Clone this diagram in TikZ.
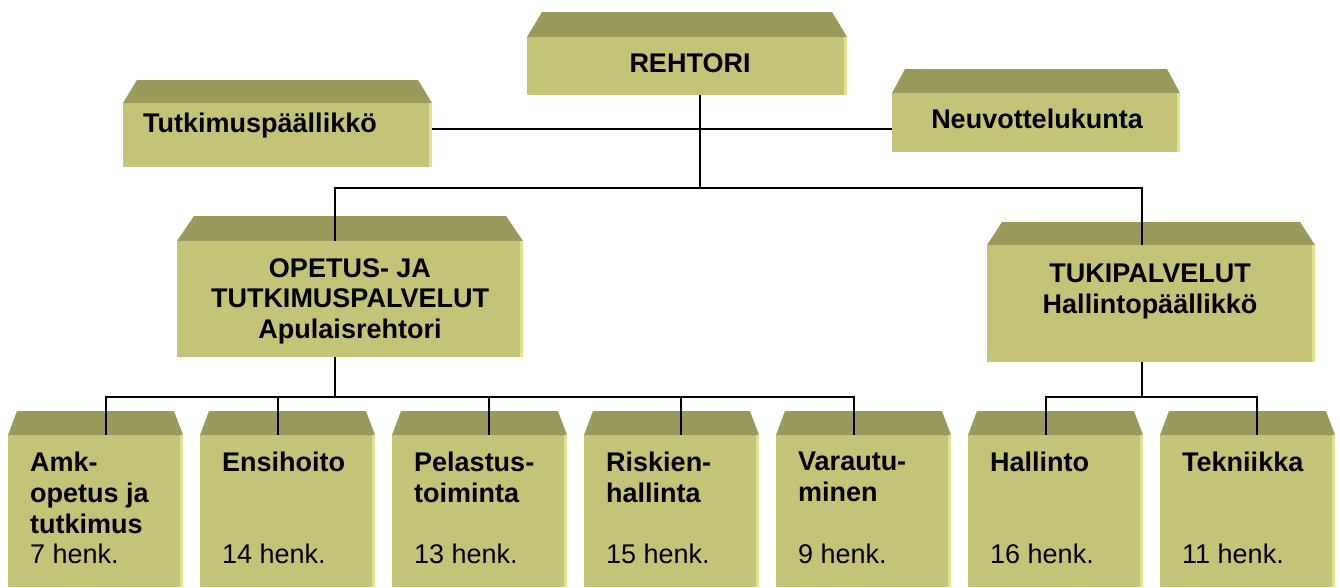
\documentclass[tikz,border=0pt]{standalone}
\usepackage{fontspec}
\setmainfont{Liberation Sans}
\definecolor{boxfront}{RGB}{196,196,120}
\definecolor{boxtop}{RGB}{154,154,92}
\definecolor{boxedge}{RGB}{226,226,140}
\tikzset{
  box/.style={rectangle, fill=boxfront, inner sep=0pt, outer sep=0pt, anchor=north west},
  head/.style={inner sep=0pt, font=\fontsize{27}{30.7}\selectfont\bfseries, align=center},
  count/.style={inner sep=0pt, font=\fontsize{27}{30.7}\selectfont},
  link/.style={line width=2.4pt},
}
\begin{document}
\begin{tikzpicture}[x=1pt, y=-1pt]
        \useasboundingbox (0,0) rectangle (1340,587);
        \node[box, minimum width=320pt, minimum height=58pt] (rehtori) at (527,37) {};
        \node[box, minimum width=309pt, minimum height=64pt] (tutk) at (123,103) {};
        \node[box, minimum width=288pt, minimum height=59pt] (neuv) at (892,93) {};
        \node[box, minimum width=346pt, minimum height=116pt] (opetus) at (177,241) {};
        \node[box, minimum width=328pt, minimum height=117pt] (tuki) at (987,245) {};
        \foreach \n [count=\i from 0] in {amk,ensi,pel,risk,var,hall,tekn}
            \node[box, minimum width=175pt, minimum height=152pt] (\n) at (8+192*\i,435) {};
        \foreach \n/\d/\h in {rehtori/15/25, tutk/14/23, neuv/13/24, opetus/17/25, tuki/15/23,
                amk/9/24, ensi/9/24, pel/9/24, risk/9/24, var/9/24, hall/9/24, tekn/9/24}{
            \fill[boxtop] (\n.north west) -- ([shift={(\d,-\h)}]\n.north west)
                -- ([shift={(-\d,-\h)}]\n.north east) -- (\n.north east) -- cycle;
            \fill[boxedge] ([xshift=-3pt]\n.north east) rectangle (\n.south east);
        }
        \node[head, anchor=base] (rehtori-t) at ([shift={(163,35)}]rehtori.north west) {REHTORI};
        \node[head, anchor=base west] (tutk-t) at ([shift={(20,29)}]tutk.north west) {Tutkimuspäällikkö};
        \node[head, anchor=base] (neuv-t) at ([shift={(145,35)}]neuv.north west) {Neuvottelukunta};
        \node[head, anchor=north] (opetus-t) at ([shift={(173,17)}]opetus.north west)
            {OPETUS- JA\\TUTKIMUSPALVELUT\\Apulaisrehtori};
        \node[head, anchor=north] (tuki-t) at ([shift={(163,19)}]tuki.north west)
            {TUKIPALVELUT\\Hallintopäällikkö};
        \foreach \n/\t/\k in {amk/{Amk-\\opetus ja\\tutkimus}/7, ensi/Ensihoito/14,
                pel/{Pelastus-\\toiminta}/13, risk/{Riskien-\\hallinta}/15,
                var/{Varautu-\\minen}/9, hall/Hallinto/16, tekn/Tekniikka/11}{
            \node[head, anchor=north west, align=left] (\n-t) at ([shift={(22,17)}]\n.north west) {\t};
            \node[count, anchor=base west] (\n-k) at ([shift={(22,128)}]\n.north west) {\k\ henk.};
        }
        \draw[link] ([xshift=13pt]rehtori.south) -- ++(0,93) coordinate (hub);
        \coordinate (tutk-out) at ([yshift=6pt]tutk.east);
        \draw[link] (tutk-out) -- (tutk-out -| neuv.west);
        \draw[link] ([xshift=-15pt]opetus.north) |- (hub) -| ([xshift=-9pt]tuki.north);
        \draw[link] ([xshift=-15pt]opetus.south) -- ++(0,40) coordinate (opbar);
        \draw[link] ([xshift=10.5pt]amk.north) |- (opbar) -| ([xshift=-9.5pt]var.north);
        \foreach \n/\s in {ensi/-9.5, pel/9.5, risk/9.5}
            \draw[link] ([xshift=\s pt]\n.north) -- ++(0,-38);
        \draw[link] ([xshift=-9pt]tuki.south) -- ++(0,35) coordinate (tukibar);
        \draw[link] ([xshift=-9.5pt]hall.north) |- (tukibar) -| ([xshift=9.5pt]tekn.north);
    \end{tikzpicture}
\end{document}
